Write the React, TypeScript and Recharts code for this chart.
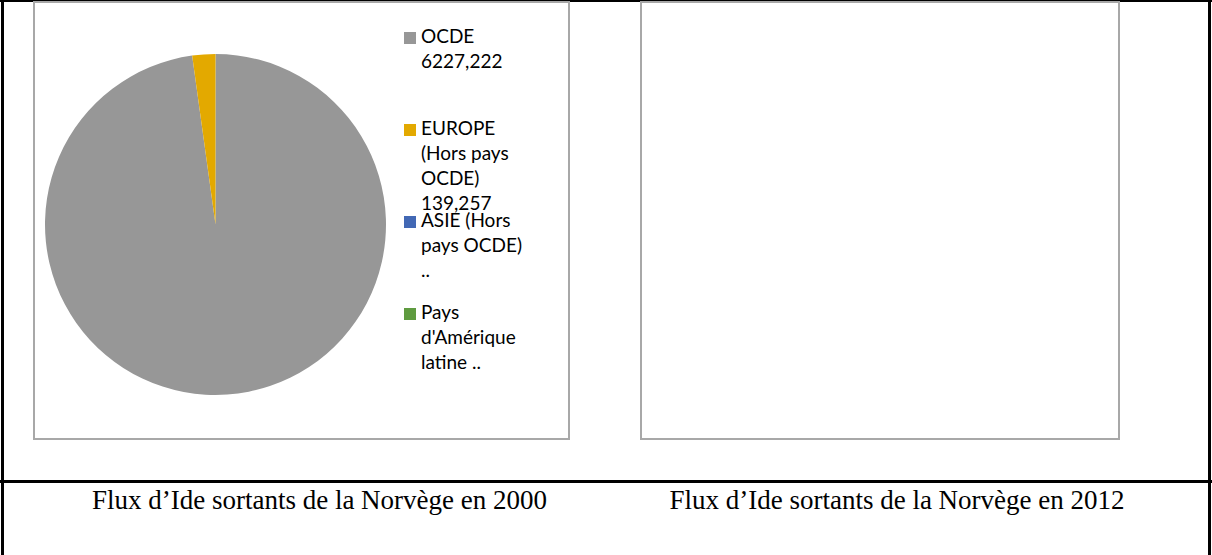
import React from 'react'
import { PieChart, Pie, Cell, Legend } from 'recharts'

// Flux d'IDE sortants de la Norvège, 2000 (".." = donnée non disponible)
const REGIONS = ['OCDE', 'EUROPE (Hors pays OCDE)', 'ASIE (Hors pays OCDE)', "Pays d'Amérique latine"]
const FLUX_2000 = [6227.222, 139.257, 0, 0]
const LABELS_2000 = ['6227,222', '139,257', '..', '..']
const COLORS = ['#979797', '#E3A900', '#4268B4', '#5F9B40']
const CAPTIONS = ['Flux d’Ide sortants de la Norvège en 2000', 'Flux d’Ide sortants de la Norvège en 2012']

const data2000 = REGIONS.map((name, i) => ({ name, value: FLUX_2000[i] }))

function renderLegend() {
  return (
    <div
      style={{
        position: 'relative',
        width: 150,
        height: 370,
        fontFamily: 'Lato, sans-serif',
        fontSize: 19,
        lineHeight: '25px',
        color: '#000',
      }}
    >
      {REGIONS.map((name, i) => (
        <div key={name} style={{ position: 'absolute', left: 0, top: i * 92, width: 140 }}>
          <span
            style={{ position: 'absolute', left: 0, top: 9, width: 12, height: 12, background: COLORS[i] }}
          />
          <div style={{ marginLeft: 17, width: 110 }}>
            {name} {LABELS_2000[i]}
          </div>
        </div>
      ))}
    </div>
  )
}

const line = (style: React.CSSProperties): React.CSSProperties => ({
  position: 'absolute',
  background: '#000',
  ...style,
})

const box = (left: number, width: number): React.CSSProperties => ({
  position: 'absolute',
  left,
  top: 1,
  width,
  height: 439,
  border: '2px solid #a8a8a8',
  boxSizing: 'border-box',
  background: '#fff',
})

const caption = (center: number): React.CSSProperties => ({
  position: 'absolute',
  left: center - 300,
  top: 487,
  width: 600,
  textAlign: 'center',
  whiteSpace: 'nowrap',
  fontFamily: '"Liberation Serif", "Times New Roman", serif',
  fontSize: 27,
  lineHeight: '27px',
  color: '#000',
})

export default function App() {
  return (
    <div style={{ position: 'absolute', left: 0, top: 0, width: 1212, height: 555, background: '#fff', overflow: 'hidden' }}>
      {/* table borders */}
      <div style={line({ left: 0, top: 0, width: 1212, height: 2 })} />
      <div style={line({ left: 1, top: 0, width: 3, height: 555 })} />
      <div style={line({ left: 1208, top: 0, width: 3, height: 555 })} />
      <div style={line({ left: 0, top: 480, width: 1212, height: 3 })} />

      {/* 2000 */}
      <div style={box(33, 537)}>
        <PieChart width={533} height={435} margin={{ top: 0, right: 0, bottom: 0, left: 0 }}>
          <Pie
            data={data2000}
            dataKey="value"
            nameKey="name"
            cx={180.5}
            cy={221.5}
            outerRadius={170.5}
            startAngle={90}
            endAngle={-270}
            stroke="none"
            isAnimationActive={false}
          >
            {data2000.map((d, i) => (
              <Cell key={d.name} fill={COLORS[i]} />
            ))}
          </Pie>
          <Legend
            layout="vertical"
            align="right"
            verticalAlign="top"
            content={renderLegend}
            wrapperStyle={{ left: 369, top: 20, width: 150 }}
          />
        </PieChart>
      </div>

      {/* 2012 : pas de données */}
      <div style={box(640, 480)} />

      <div style={caption(319.5)}>{CAPTIONS[0]}</div>
      <div style={caption(897)}>{CAPTIONS[1]}</div>
    </div>
  )
}
